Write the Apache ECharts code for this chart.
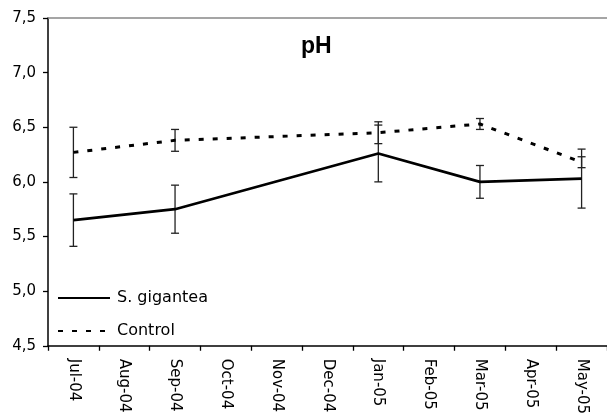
<!DOCTYPE html>
<html>
<head>
<meta charset="utf-8">
<script src="https://cdn.jsdelivr.net/npm/echarts@6/dist/echarts.min.js"></script>
<style>html,body{margin:0;padding:0;background:#fff}#c{width:607px;height:417px}</style>
</head>
<body>
<div id="c"></div>
<script>
var months = ['Jul-04','Aug-04','Sep-04','Oct-04','Nov-04','Dec-04','Jan-05','Feb-05','Mar-05','Apr-05','May-05'];
var sgMean = [5.65, null, 5.75, null, null, null, 6.26, null, 6.00, null, 6.03];
var sgErr  = [0.24, null, 0.22, null, null, null, 0.26, null, 0.15, null, 0.27];
var ctlMean = [6.27, null, 6.38, null, null, null, 6.45, null, 6.53, null, 6.18];
var ctlErr  = [0.23, null, 0.10, null, null, null, 0.10, null, 0.05, null, 0.05];
var yTicks = [4.5, 5.0, 5.5, 6.0, 6.5, 7.0, 7.5];

function errData(mean, err) {
  var out = [];
  for (var i = 0; i < mean.length; i++) {
    if (mean[i] != null) out.push([i, mean[i] - err[i], mean[i] + err[i]]);
  }
  return out;
}
function renderErr(params, api) {
  var x = api.value(0);
  var lo = api.coord([x, api.value(1)]);
  var hi = api.coord([x, api.value(2)]);
  var hw = 4;
  var st = {stroke: '#222', lineWidth: 1.3, fill: null};
  return {type: 'group', children: [
    {type: 'line', shape: {x1: lo[0], y1: lo[1], x2: hi[0], y2: hi[1]}, style: st},
    {type: 'line', shape: {x1: lo[0]-hw, y1: lo[1], x2: lo[0]+hw, y2: lo[1]}, style: st},
    {type: 'line', shape: {x1: hi[0]-hw, y1: hi[1], x2: hi[0]+hw, y2: hi[1]}, style: st}
  ]};
}

var chart = echarts.init(document.getElementById('c'), null, {renderer: 'canvas'});
chart.setOption({
  animation: false,
  backgroundColor: '#fff',
  title: {
    text: 'pH', left: 296, top: 30,
    textStyle: {fontFamily: 'Liberation Sans, Arial', fontSize: 23, fontWeight: 'bold', color: '#000'}
  },
  legend: {
    data: ['S. gigantea', 'Control'],
    orient: 'vertical', left: 52, top: 285,
    itemWidth: 52, itemHeight: 14, itemGap: 17,
    itemStyle: {opacity: 0},
    textStyle: {fontFamily: 'DejaVu Sans', fontSize: 16, color: '#000', padding: [0,0,0,2]}
  },
  grid: {left: 48, top: 18, right: -2, bottom: 70, containLabel: false},
  xAxis: [{
    type: 'category', data: months, boundaryGap: true,
    axisLine: {lineStyle: {color: '#000', width: 1.5}},
    axisTick: {show: true, length: 5, lineStyle: {color: '#000', width: 1.3}},
    axisLabel: {rotate: -90, margin: 13, interval: 0, fontFamily: 'DejaVu Sans', fontSize: 15, color: '#000'},
    splitLine: {show: false}
  }, {
    type: 'category', data: months, position: 'top',
    axisLine: {lineStyle: {color: '#888', width: 1.5}},
    axisTick: {show: false}, axisLabel: {show: false}, splitLine: {show: false}
  }],
  yAxis: {
    type: 'value', min: yTicks[0], max: yTicks[yTicks.length-1], interval: 0.5,
    axisLine: {show: true, lineStyle: {color: '#000', width: 1.5}},
    axisTick: {show: true, length: 5, lineStyle: {color: '#000', width: 1.3}},
    axisLabel: {margin: 12, fontFamily: 'DejaVu Sans', fontSize: 15, color: '#000',
      formatter: function (v) { return v.toFixed(1).replace('.', ','); }},
    splitLine: {show: false}
  },
  series: [
    {type: 'custom', name: 'errS', renderItem: renderErr, data: errData(sgMean, sgErr), z: 3, silent: true},
    {type: 'custom', name: 'errC', renderItem: renderErr, data: errData(ctlMean, ctlErr), z: 3, silent: true},
    {type: 'line', name: 'S. gigantea', data: sgMean, connectNulls: true, symbol: 'none',
      lineStyle: {color: '#000', width: 2.7}, itemStyle: {color: '#000'}, z: 4},
    {type: 'line', name: 'Control', data: ctlMean, connectNulls: true, symbol: 'none',
      lineStyle: {color: '#000', width: 3, type: [5, 9]}, itemStyle: {color: '#000'}, z: 4}
  ]
});
</script>
</body>
</html>
